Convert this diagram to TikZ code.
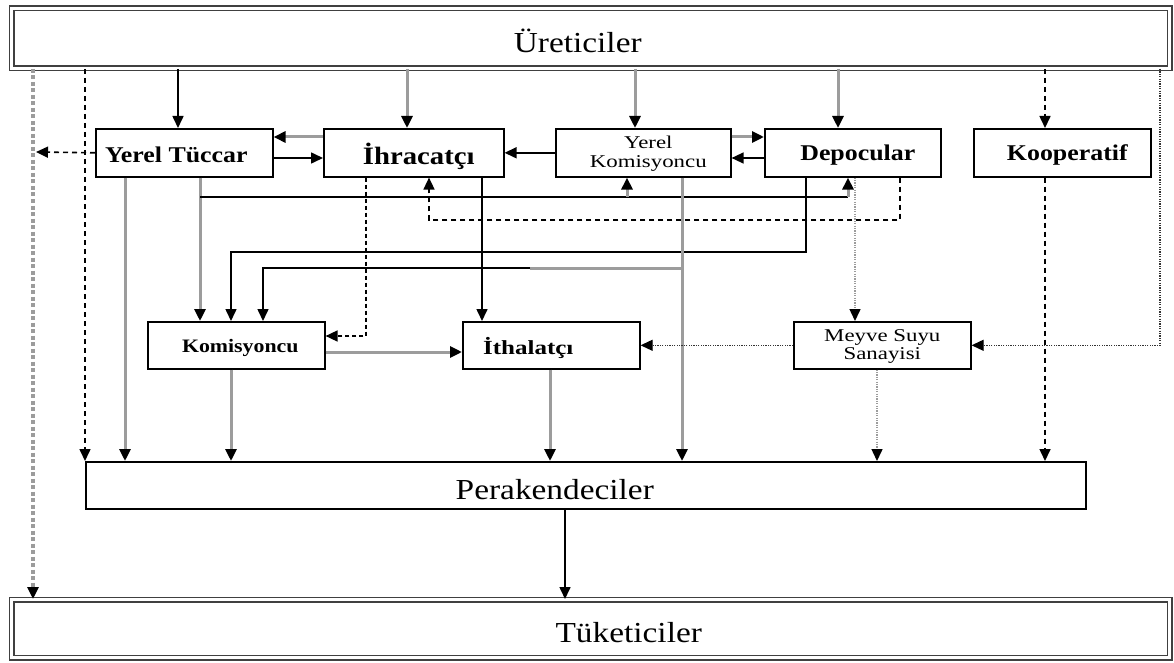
\documentclass[tikz,border=0pt]{standalone}
\usepackage{fontspec}
\setmainfont{Liberation Serif}[FakeStretch=1.15]
\newfontfamily\fsmall{Liberation Serif}[FakeStretch=1.27]
\newfontfamily\fith{Liberation Serif}[FakeStretch=1.25]
\usetikzlibrary{arrows.meta,calc}
\definecolor{lg}{HTML}{9C9C9C}
\begin{document}
\begin{tikzpicture}[x=1pt,y=-1pt,
  box/.style={draw=black,line width=1.6pt,anchor=north west,inner sep=0pt,fill=white},
  dbox/.style={draw=black!75,double=white,double distance=3pt,line width=1.5pt,anchor=north west,inner sep=0pt,fill=white},
  big/.style={font=\fontsize{29}{31}\selectfont},
  mid/.style={font=\fontsize{22.5}{24}\selectfont\bfseries},
  sml/.style={font=\fsmall\fontsize{18}{18.5}\selectfont, align=center},
  arr/.style={-{Triangle[length=12pt,width=11pt,color=black]}},
  blk/.style={draw=black,line width=1.6pt},
  gry/.style={draw=lg,line width=3pt},
  dsh/.style={draw=black,line width=1.6pt,dash pattern=on 5pt off 4pt},
  dotb/.style={draw=black!80,line width=1.2pt,dash pattern=on 1.2pt off 1.2pt},
  dotg/.style={draw=lg,line width=1.5pt,dash pattern=on 1.2pt off 1.2pt},
  gdash/.style={draw=lg,line width=3.5pt,dash pattern=on 4pt off 2.5pt}]
\useasboundingbox (0,0) rectangle (1174,663);
% main boxes
\node[dbox,minimum width=1158pt,minimum height=60pt,label={[big,xshift=-13pt,yshift=-3pt]center:Üreticiler}] (ure) at (11,7.5) {};
\node[dbox,minimum width=1158pt,minimum height=58pt,label={[big,xshift=38pt,yshift=-4pt]center:Tüketiciler}] (tuk) at (11,599) {};
\node[box,minimum width=1000pt,minimum height=47pt,label={[big,xshift=-31pt,yshift=-4pt]center:Perakendeciler}] (per) at (85,461) {};
\node[box,minimum width=177pt,minimum height=48pt,label={[mid,xshift=-8pt,yshift=-2pt]center:Yerel Tüccar}] (tuc) at (95,128) {};
\node[box,minimum width=180pt,minimum height=48pt,label={[font=\fontsize{25}{27}\selectfont\bfseries,xshift=5pt,yshift=-4pt]center:İhracatçı}] (ihr) at (323,128) {};
\node[box,minimum width=175pt,minimum height=48pt,label={[sml,yshift=-1pt,xshift=5pt]center:Yerel\\Komisyoncu}] (ykom) at (555,128) {};
\node[box,minimum width=176pt,minimum height=48pt,label={[mid,xshift=5pt,yshift=-2pt]center:Depocular}] (depo) at (764,128) {};
\node[box,minimum width=177pt,minimum height=48pt,label={[mid,xshift=5pt,yshift=-2pt]center:Kooperatif}] (koop) at (973,128) {};
\node[box,minimum width=177pt,minimum height=47pt,label={[font=\fontsize{19}{20}\selectfont\bfseries,xshift=4pt,yshift=-3pt]center:Komisyoncu}] (kom) at (147,321) {};
\node[box,minimum width=177pt,minimum height=47pt,label={[font=\fith\fontsize{20}{22}\selectfont\bfseries,xshift=-23pt,yshift=-3pt]center:İthalatçı}] (ith) at (462,321) {};
\node[box,minimum width=177pt,minimum height=47pt,label={[sml,yshift=-1pt]center:Meyve Suyu\\Sanayisi}] (mey) at (793,321) {};
% from producers
\draw[gdash,arr] (33,0 |- ure.south) -- (33,0 |- tuk.north);
\draw[dsh,arr] (85,0 |- ure.south) -- (per.north west);
\draw[blk,arr] (178,0 |- ure.south) -- (178,0 |- tuc.north);
\draw[gry,arr] (407,0 |- ure.south) -- (407,0 |- ihr.north);
\draw[gry,arr] (635,0 |- ure.south) -- (635,0 |- ykom.north);
\draw[gry,arr] (838,0 |- ure.south) -- (838,0 |- depo.north);
\draw[dsh,arr] (1045,0 |- ure.south) -- (1045,0 |- koop.north);
\draw[dotb,arr] (1160,0 |- ure.south) |- (mey.east);
% top row interactions
\coordinate (lt) at (36,152);
\draw[dsh,arr] (tuc.west) -- (lt);
\draw[gry,arr] (ihr.west |- 0,137) -- (tuc.east |- 0,137);
\draw[blk,arr] (tuc.east |- 0,158) -- (ihr.west |- 0,158);
\draw[blk,arr] (ykom.west) -- (ihr.east);
\draw[gry,arr] (ykom.east |- 0,137) -- (depo.west |- 0,137);
\draw[blk,arr] (depo.west |- 0,158) -- (ykom.east |- 0,158);
% down from Yerel Tuccar
\draw[gry,arr] (125,0 |- tuc.south) -- (125,0 |- per.north);
\draw[gry,arr] (200,0 |- tuc.south) -- (200,0 |- kom.north);
\coordinate (j1) at (200,197);
\coordinate (j2) at (848,197);
\coordinate (j3) at (627,197);
\draw[blk] (j1) -- (j2);
\draw[gry,arr] (j2) -- (848,0 |- depo.south);
\draw[gry,arr] (j3) -- (627,0 |- ykom.south);
% depocular
\draw[dsh,arr] (900,0 |- depo.south) -- (900,220) -| (429,0 |- ihr.south);
\draw[blk,arr] (806,0 |- depo.south) -- (806,252) -| (231,0 |- kom.north);
\draw[dotg,arr] (855,0 |- depo.south) -- (855,0 |- mey.north);
% yerel komisyoncu
\draw[gry,arr] (682,0 |- ykom.south) -- (682,0 |- per.north);
\coordinate (j4) at (682,268);
\coordinate (j5) at (530,268);
\draw[gry] (j4) -- (j5);
\draw[blk,arr] (j5) -| (263,0 |- kom.north);
% ihracatci
\draw[blk,arr] (482,0 |- ihr.south) -- (482,0 |- ith.north);
\draw[dsh,dash pattern=on 4pt off 3pt,arr] (366,0 |- ihr.south) |- (kom.east |- 0,336);
% middle row
\draw[gry,arr] (kom.east |- 0,352) -- (ith.west |- 0,352);
\draw[dotb,arr] (mey.west) -- (ith.east);
% to retailers
\draw[gry,arr] (231,0 |- kom.south) -- (231,0 |- per.north);
\draw[gry,arr] (550,0 |- ith.south) -- (550,0 |- per.north);
\draw[dotg,arr] (877,0 |- mey.south) -- (877,0 |- per.north);
\draw[dsh,arr] (1045,0 |- koop.south) -- (1045,0 |- per.north);
\draw[blk,arr] (565,0 |- per.south) -- (565,0 |- tuk.north);
\end{tikzpicture}
\end{document}
